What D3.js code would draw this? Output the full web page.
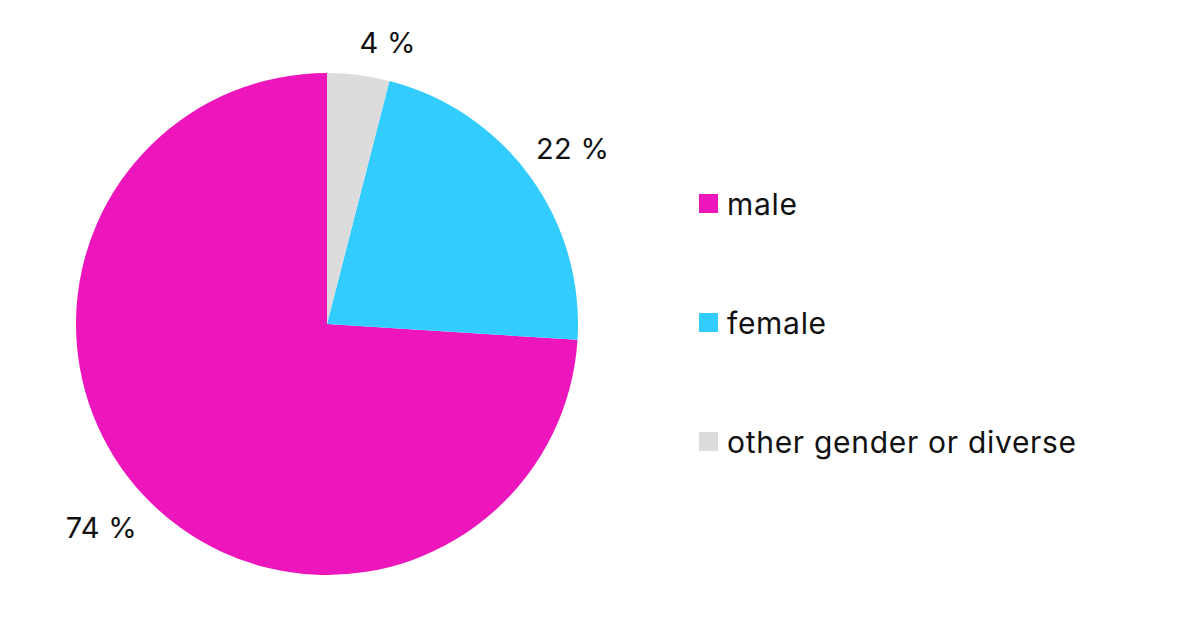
<!DOCTYPE html>
<html><head><meta charset="utf-8">
<script src="https://cdn.jsdelivr.net/npm/d3@7"></script>
<style>body{margin:0;background:#fff}svg{display:block}text{font-family:Inter,"DejaVu Sans",sans-serif;fill:#111}</style>
</head><body><svg id="c" width="1200" height="634"></svg>
<script>
const categories = ["male", "female", "other gender or diverse"];
const values = [74, 22, 4];
const colors = ["#EC16BC", "#33CCFF", "#DCDCDC"];
// label nudges in px (layout only)
const labelNudge = [[-7,-2],[3,1],[23,16]];

const svg = d3.select("#c");
const cx = 327, cy = 324, r = 251;
const g = svg.append("g").attr("transform", `translate(${cx},${cy})`);
const data = categories.map((c,i)=>({cat:c, value:values[i], color:colors[i], nudge:labelNudge[i]}));
// male drawn counterclockwise from 12 o'clock
const pie = d3.pie().value(d=>d.value).sort(null).startAngle(0).endAngle(-2*Math.PI);
const arcs = pie(data);
const arc = d3.arc().innerRadius(0).outerRadius(r);
g.selectAll("path").data(arcs).enter().append("path")
  .attr("d", arc).attr("fill", d=>d.data.color);
const labelArc = d3.arc().innerRadius(300).outerRadius(300);
g.selectAll("text.lbl").data(arcs).enter().append("text")
  .attr("class","lbl")
  .attr("transform", d=>{const [x,y]=labelArc.centroid(d); return `translate(${x+d.data.nudge[0]},${y+d.data.nudge[1]+10.5})`;})
  .attr("text-anchor","middle")
  .style("font-size","29px").style("letter-spacing","0.3px")
  .text(d=>d.data.value+" %");

const legendY = d3.scalePoint().domain(categories).range([205, 443]);
const lg = svg.append("g");
lg.selectAll("rect").data(data).enter().append("rect")
  .attr("x", 699).attr("y", d=>legendY(d.cat)-11).attr("width",19).attr("height",19)
  .attr("fill", d=>d.color);
lg.selectAll("text").data(data).enter().append("text")
  .attr("x", 727).attr("y", d=>legendY(d.cat)+10)
  .style("font-size","30px").style("letter-spacing","0.7px").text(d=>d.cat);
</script></body></html>
